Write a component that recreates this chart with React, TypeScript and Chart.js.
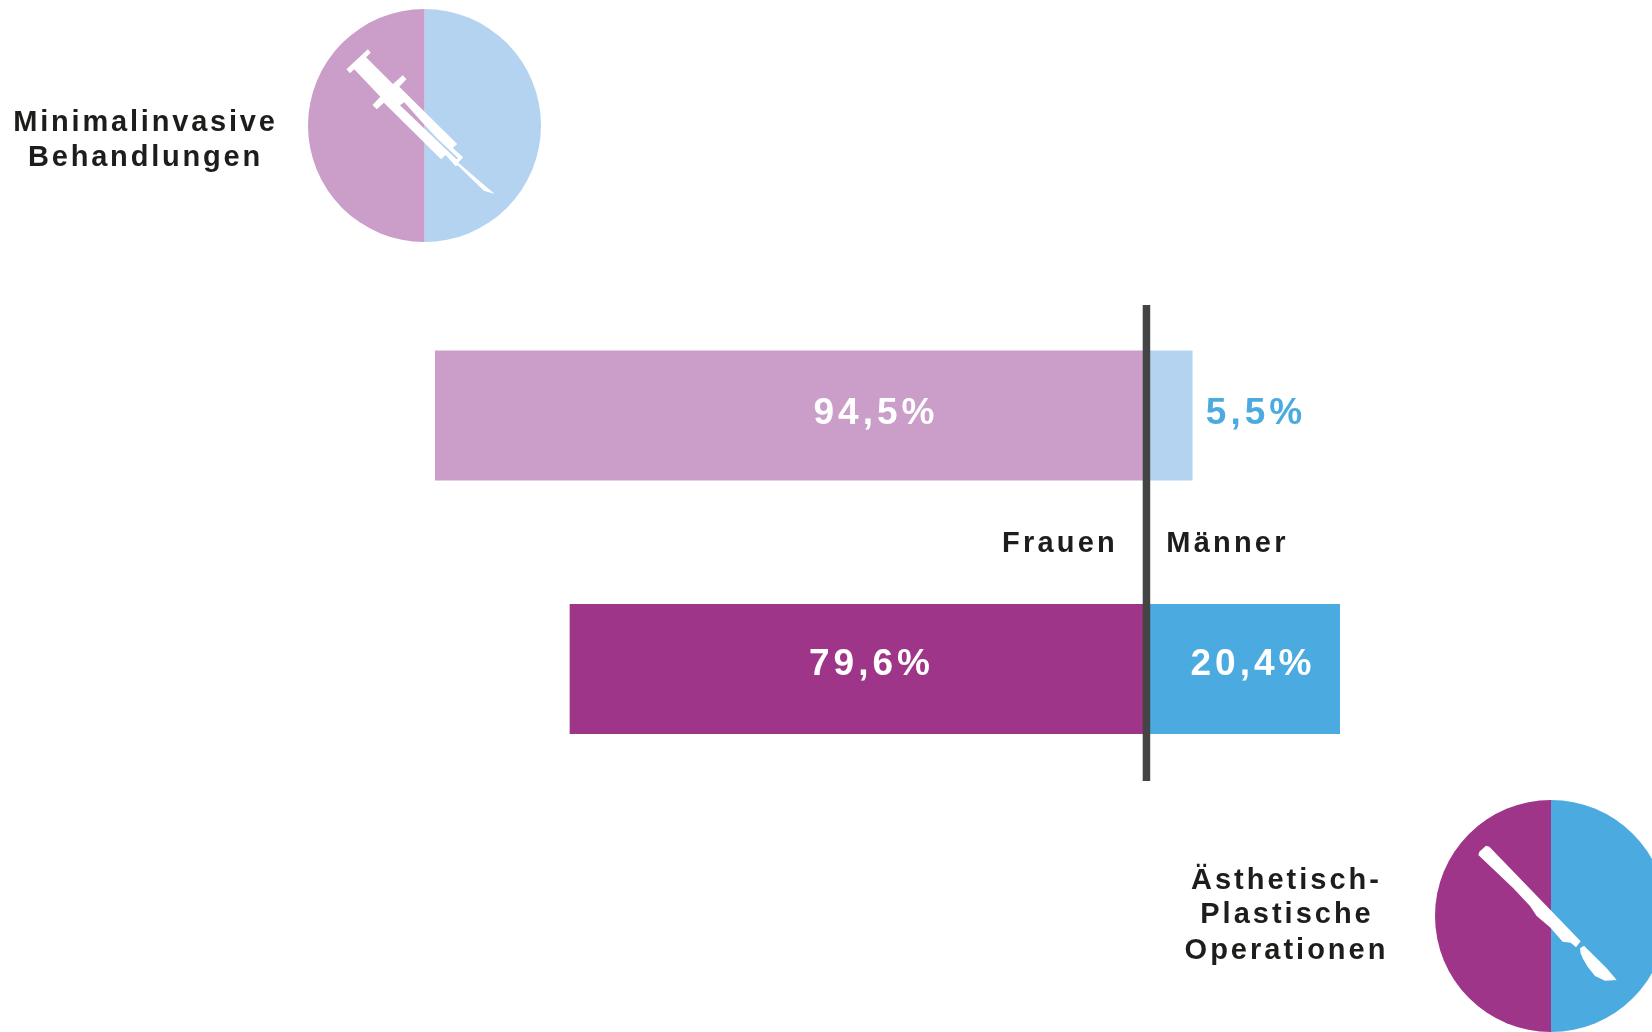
import React, { useEffect, useRef } from "react";
import { Chart, registerables } from "chart.js";

Chart.register(...registerables);

// Printed values
const categories = ["Minimalinvasive Behandlungen", "Ästhetisch-Plastische Operationen"];
const womenLabels = ["94,5%", "79,6%"];
const menLabels = ["5,5%", "20,4%"];
// Bar lengths as drawn in the picture (the source graphic is not strictly to scale)
const womenBars = [-94.5, -76.6];
const menBars = [6.2, 25.8];
const pieSplit = [50, 50];
const pieLabels = ["Männer", "Frauen"];

const LIGHT_PURPLE = "#ca9ec8";
const LIGHT_BLUE = "#b4d3f1";
const PURPLE = "#9e3589";
const BLUE = "#4babe1";
const INK = "#1d1d1b";
const FONT = '"Liberation Sans", Arial, sans-serif';

type Txt = { t: string; x: number; y: number; c: string; s: number; ls: number };
const texts: Txt[] = [
  { t: "Minimalinvasive", x: 145.5, y: 131, c: INK, s: 29, ls: 2.8 },
  { t: "Behandlungen", x: 145.5, y: 166, c: INK, s: 29, ls: 2.8 },
  { t: "Frauen", x: 1060, y: 552, c: INK, s: 29, ls: 3.2 },
  { t: "Männer", x: 1227.5, y: 552, c: INK, s: 29, ls: 3.2 },
  { t: "Ästhetisch-", x: 1286.5, y: 889, c: INK, s: 29, ls: 3 },
  { t: "Plastische", x: 1287, y: 923, c: INK, s: 29, ls: 3 },
  { t: "Operationen", x: 1286.5, y: 959, c: INK, s: 29, ls: 3 },
  { t: womenLabels[0], x: 876, y: 424, c: "#ffffff", s: 37, ls: 4 },
  { t: menLabels[0], x: 1256, y: 424, c: BLUE, s: 37, ls: 4 },
  { t: womenLabels[1], x: 871.5, y: 675, c: "#ffffff", s: 37, ls: 4 },
  { t: menLabels[1], x: 1253, y: 675, c: "#ffffff", s: 37, ls: 4 },
];

const overlayPlugin = {
  id: "overlay",
  afterDatasetsDraw(chart: any) {
    const ctx = chart.ctx;
    const zero = chart.scales.x.getPixelForValue(0);
    ctx.save();
    ctx.fillStyle = "#444444";
    ctx.fillRect(zero - 3.2, 305, 7.5, 476);
    ctx.textAlign = "center";
    ctx.textBaseline = "alphabetic";
    for (const it of texts) {
      ctx.font = `bold ${it.s}px ${FONT}`;
      ctx.letterSpacing = `${it.ls}px`;
      ctx.fillStyle = it.c;
      ctx.fillText(it.t, it.x, it.y);
    }
    ctx.restore();
  },
};

// icon outlines, in page pixels
const sx = (x: number) => x / 2.8;
const sy = (y: number) => y / 3;
const syringeOuter = [
  [1030, 148], [1038, 158], [1025, 172], [1100, 252], [1128, 226], [1138, 238], [1118, 260],
  [1280, 432], [1268, 444], [1297, 472], [1283, 488], [1385, 582], [1355, 572], [1283, 497],
  [1275, 498], [1248, 465], [1235, 478], [1075, 308], [1055, 328], [1043, 315], [1065, 290],
  [992, 208], [980, 220], [970, 208],
].map(([x, y]) => [sx(x), sy(y)]);
const syringeHole = [
  [1120, 316], [1132, 307], [1178, 362], [1225, 416], [1283, 475], [1278, 478],
].map(([x, y]) => [sx(x), sy(y)]);
const zx = (x: number) => 1160 + x / 3;
const zy = (y: number) => 780 + y / 3;
const scalpelHandle = [
  [978, 197], [988, 200], [1262, 484], [1248, 502], [1232, 488], [1208, 485], [1170, 442],
  [1130, 408], [1110, 378], [1060, 325], [955, 225], [958, 215],
].map(([x, y]) => [zx(x), zy(y)]);
const scalpelBlade = [
  [1260, 505], [1272, 497], [1340, 565], [1370, 600], [1335, 602], [1305, 588], [1283, 560], [1268, 535], [1262, 520],
].map(([x, y]) => [zx(x), zy(y)]);

const trace = (ctx: any, pts: number[][], ox: number, oy: number) => {
  pts.forEach(([x, y], i) => (i ? ctx.lineTo(x - ox, y - oy) : ctx.moveTo(x - ox, y - oy)));
  ctx.closePath();
};

const iconPlugin = (shapes: number[][][], ox: number, oy: number) => ({
  id: "icon",
  afterDatasetsDraw(chart: any) {
    const ctx = chart.ctx;
    ctx.save();
    ctx.fillStyle = "#ffffff";
    ctx.beginPath();
    shapes.forEach((s) => trace(ctx, s, ox, oy));
    ctx.fill("evenodd");
    ctx.restore();
  },
});

function Pie({ left, top, size, colors, shapes }: any) {
  const ref = useRef<HTMLCanvasElement>(null);
  useEffect(() => {
    const chart = new Chart(ref.current!, {
      type: "pie",
      data: {
        labels: pieLabels,
        datasets: [{ data: pieSplit, backgroundColor: colors, borderWidth: 0 }],
      },
      options: {
        responsive: false,
        animation: false,
        layout: { padding: 0 },
        plugins: { legend: { display: false }, tooltip: { enabled: false } },
      },
      plugins: [iconPlugin(shapes, left, top)],
    } as any);
    return () => chart.destroy();
  }, []);
  return (
    <canvas
      ref={ref}
      width={size}
      height={size}
      style={{ position: "absolute", left, top, width: size, height: size, display: "block" }}
    />
  );
}

export default function App() {
  const ref = useRef<HTMLCanvasElement>(null);
  useEffect(() => {
    const chart = new Chart(ref.current!, {
      type: "bar",
      data: {
        labels: categories,
        datasets: [
          {
            label: "Frauen",
            data: womenBars,
            backgroundColor: [LIGHT_PURPLE, PURPLE],
            borderWidth: 0,
            categoryPercentage: 1,
            barPercentage: 0.513,
          },
          {
            label: "Männer",
            data: menBars,
            backgroundColor: [LIGHT_BLUE, BLUE],
            borderWidth: 0,
            categoryPercentage: 1,
            barPercentage: 0.513,
          },
        ],
      },
      options: {
        indexAxis: "y",
        responsive: false,
        animation: false,
        layout: { padding: { left: 435, right: 312, top: 288.75, bottom: 236.25 } },
        scales: {
          x: { display: false, stacked: true, min: -94.5, max: 25.8 },
          y: { display: false, stacked: true },
        },
        plugins: { legend: { display: false }, tooltip: { enabled: false } },
      },
      plugins: [overlayPlugin],
    } as any);
    return () => chart.destroy();
  }, []);
  return (
    <div style={{ position: "fixed", left: 0, top: 0, width: 1652, height: 1032, overflow: "hidden", background: "#ffffff" }}>
      <canvas ref={ref} width={1652} height={1032} style={{ position: "absolute", left: 0, top: 0, width: 1652, height: 1032, display: "block" }} />
      <Pie left={308} top={9} size={233} colors={[LIGHT_BLUE, LIGHT_PURPLE]} shapes={[syringeOuter, syringeHole]} />
      <Pie left={1435} top={800} size={232} colors={[BLUE, PURPLE]} shapes={[scalpelHandle, scalpelBlade]} />
    </div>
  );
}
